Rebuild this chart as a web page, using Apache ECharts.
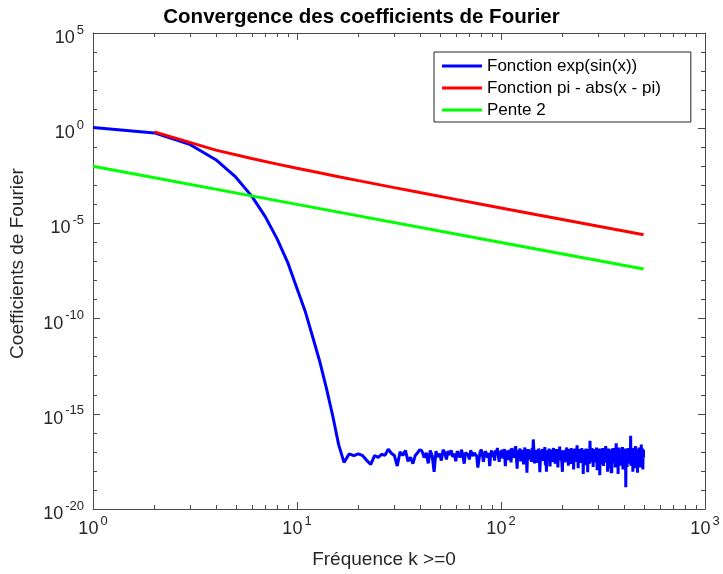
<!DOCTYPE html>
<html><head><meta charset="utf-8">
<script src="https://cdn.jsdelivr.net/npm/echarts@6.0.0/dist/echarts.min.js"></script>
<style>html,body{margin:0;padding:0;background:#fff}#c{width:723px;height:574px}</style>
</head><body><div id="c"></div>
<script>
// ---- texts ----
const titleText = 'Convergence des coefficients de Fourier';
const xName = 'Fréquence k >=0';
const yName = 'Coefficients de Fourier';
const seriesNames = ['Fonction exp(sin(x))', 'Fonction pi - abs(x - pi)', 'Pente 2'];

// ---- axes / ticks ----
const xRange = [1, 1000];                 // x log axis extent
const yExpRange = [-20, 5];               // y axis: exponents of 10
const yExpStep = 5;                       // labelled y ticks every 5 decades
const xMajorTicks = [10, 100];
const xMinorTicks = [2,3,4,5,6,7,8,9,20,30,40,50,60,70,80,90,200,300,400,500,600,700,800,900];

// ---- data: blue, |c_k| of exp(sin(x)), plotted at x = k+1 (k = 0..499) ----
const blueDecay = [1.1,0.565,0.136,0.0222,0.00274,2.7e-4,2.2e-5,1.5e-6,9e-8,3.8e-9,2.2e-10,9e-12,4.5e-13,1.8e-14,7e-16,2.4e-17,2.8e-18];
const blueFloor = [
7.8e-18,6.3e-18,7.8e-18,6.3e-18,3.5e-18,2.2e-18,6.3e-18,5.2e-18,7.5e-18,6.5e-18,
14e-18,8.5e-18,6.5e-18,1.8e-18,10e-18,6.5e-18,12e-18,3.2e-18,5.2e-18,2.4e-18,
6.5e-18,9e-18,13e-18,11e-18,5e-18,9e-18,2.5e-18,12e-18,6e-18,0.9e-18,
11e-18,5.5e-18,8e-18,3.5e-18,13e-18,9e-18,4e-18,11e-18,7e-18,12e-18,
5.5e-18,8e-18,3.2e-18,11e-18,10e-18,5e-18,13e-18,6.5e-18,2.4e-18,9e-18,
11e-18,7e-18,4e-18,12e-18,15e-18,6e-18,9e-18,11e-18,6e-18,1.5e-18,
4e-18,10e-18,13e-18,8e-18,3e-18,6.5e-18,11e-18,14e-18,5e-18,9e-18,
1.8e-18,7.5e-18,12e-18,5.5e-18,10e-18,3.5e-18,12e-18,8.5e-18,16e-18,6e-18,
3e-18,11e-18,7e-18,13e-18,4.5e-18,9e-18,14e-18,1.8e-18,8e-18,12e-18,
6e-18,3.8e-18,10e-18,13e-18,2.8e-18,16e-18,7.5e-18,9e-18,5e-18,11e-18,
20e-18,4.5e-18,1.3e-18,12e-18,8e-18,6.5e-18,15e-18,3.2e-18,10e-18,7e-18,
13e-18,2.2e-18,9e-18,17e-18,5.5e-18,11e-18,0.8e-18,8e-18,14e-18,6e-18,
4e-18,12e-18,9.5e-18,3e-18,16e-18,7e-18,45e-18,10.5e-18,2.5e-18,5e-18,
8e-18,13e-18,2.6e-18,11e-18,6e-18,15e-18,9e-18,0.85e-18,4e-18,12e-18,
7e-18,10e-18,14e-18,3.4e-18,8.5e-18,5.5e-18,18e-18,2e-18,11e-18,0.9e-18,
6.5e-18,12e-18,9e-18,4e-18,15e-18,7.5e-18,1.7e-18,10e-18,13e-18,5e-18,
8e-18,3e-18,11e-18,16e-18,6e-18,9.5e-18,2.4e-18,12e-18,7e-18,14e-18,
4.5e-18,10e-18,1.5e-18,8.5e-18,13e-18,6e-18,19e-18,3.6e-18,9e-18,11e-18,
5.5e-18,7e-18,0.9e-18,12e-18,15e-18,4e-18,8e-18,10e-18,2.8e-18,13e-18,
6e-18,9e-18,17e-18,3.2e-18,11e-18,7.5e-18,1.9e-18,14e-18,8e-18,5e-18,
12e-18,10e-18,2.3e-18,16e-18,6.5e-18,9e-18,4.2e-18,13e-18,7e-18,1.2e-18,
11e-18,8e-18,15e-18,5e-18,3e-18,10e-18,12e-18,6e-18,22e-18,4e-18,
9e-18,1.4e-18,13e-18,7e-18,11e-18,5.5e-18,14e-18,2.6e-18,8e-18,10e-18,
6e-18,16e-18,3.5e-18,12e-18,9e-18,0.7e-18,7.5e-18,11e-18,4.5e-18,13e-18,
8e-18,2e-18,10e-18,15e-18,6e-18,9.5e-18,3.8e-18,12e-18,0.85e-18,7e-18,
14e-18,5e-18,11e-18,8.5e-18,2.4e-18,38e-18,9e-18,6.5e-18,12e-18,4e-18,
10e-18,16e-18,3e-18,7.5e-18,13e-18,1.6e-18,9e-18,11e-18,5.5e-18,14e-18,
7e-18,2.8e-18,12e-18,8e-18,4.5e-18,10e-18,17e-18,6e-18,1.1e-18,9e-18,
13e-18,5e-18,11e-18,3.4e-18,8e-18,15e-18,7e-18,0.6e-18,10e-18,12e-18,
4e-18,9e-18,14e-18,6.5e-18,2.2e-18,11e-18,8e-18,16e-18,5e-18,10e-18,
1.8e-18,12e-18,7e-18,9.5e-18,3.5e-18,13e-18,6e-18,11e-18,20e-18,4.5e-18,
8.5e-18,10e-18,2.6e-18,14e-18,7e-18,0.9e-18,12e-18,5.5e-18,9e-18,15e-18,
3e-18,8e-18,11e-18,6e-18,13e-18,1.3e-18,10e-18,7.5e-18,4e-18,0.75e-18,
12e-18,0.8e-18,9e-18,14e-18,5e-18,8e-18,16e-18,2.5e-18,11e-18,6.5e-18,
10e-18,3.8e-18,13e-18,7e-18,9e-18,1.5e-18,12e-18,5.5e-18,15e-18,28e-18,
8e-18,4e-18,11e-18,6.5e-18,2e-18,14e-18,9e-18,0.7e-18,10e-18,12e-18,
5e-18,17e-18,7.5e-18,3.2e-18,11e-18,9e-18,13e-18,1.9e-18,8e-18,6e-18,
14e-18,2.8e-18,10e-18,12e-18,4.5e-18,7e-18,18e-18,6e-18,1.2e-18,9.5e-18,
11e-18,5e-18,13e-18,3.6e-18,8.5e-18,10e-18,7e-18,15e-18,2.2e-18,12e-18,
6e-18,0.14e-18,9e-18,11e-18,4e-18,14e-18,8e-18,1.6e-18,12e-18,7e-18,
10e-18,3e-18,16e-18,6.5e-18,9e-18,13e-18,2.4e-18,11e-18,5e-18,8e-18,
12e-18,4.5e-18,15e-18,7e-18,70e-18,10e-18,1.8e-18,13e-18,6e-18,9e-18,
3.5e-18,11e-18,8e-18,14e-18,5.5e-18,0.9e-18,12e-18,7.5e-18,10e-18,2.6e-18,
16e-18,6e-18,9e-18,4e-18,13e-18,11e-18,1.4e-18,8e-18,20e-18,5e-18,
10e-18,7e-18,2.2e-18,12e-18,15e-18,6.5e-18,9e-18,3.4e-18,11e-18,0.8e-18,
8e-18,14e-18,5e-18,10e-18,1.9e-18,12e-18,7e-18,17e-18,4.2e-18,9e-18,
11e-18,3e-18,13e-18,6e-18,8.5e-18,1.5e-18,10e-18,14e-18,5.5e-18,24e-18,
7e-18,2.4e-18,12e-18,9e-18,4.8e-18,11e-18,15e-18,6e-18,1.2e-18,10e-18,
8e-18,13e-18,5e-18
];
const blueY = blueDecay.concat(blueFloor);

// ---- data: red, |c_k| of pi - |x - pi| (odd k), plotted at x = k+1 ----
const redX = [2,4,6,8,10,12,16,20,30,40,60,80,100,150,200,300,400,500];
const redY = [0.637,0.0707,0.0255,0.0130,0.00786,0.00526,0.00283,0.00176,7.57e-4,4.19e-4,1.83e-4,1.02e-4,6.5e-5,2.87e-5,1.61e-5,7.14e-6,4.01e-6,2.56e-6];

// ---- data: green, slope -2 reference ----
const greenX = [1, 10, 100, 500];
const greenY = [1e-2, 1e-4, 1e-6, 4e-8];

// ---------------------------------------------------------------
const FONT = '"Liberation Sans", Arial, Helvetica, sans-serif';
const AX = '#4a4a4a';
const TXT = '#262626';
const rich = {
  b: {fontSize: 18, lineHeight: 18, padding: [6, 0, 0, 0], color: TXT, fontFamily: FONT},
  s: {fontSize: 13, lineHeight: 14, padding: [0, 0, 10, 2], color: TXT, fontFamily: FONT}
};
const pow10Label = e => '{b|10}{s|' + e + '}';

const blueData = blueY.map((v, i) => [i + 1, v]);
const redData = redX.map((x, i) => [x, redY[i]]);
const greenData = greenX.map((x, i) => [x, greenY[i]]);
const xTickData = xMajorTicks.map(v => [v, 1, 7]).concat(xMinorTicks.map(v => [v, 1, 4]));

const axisLine = {show: true, onZero: false, lineStyle: {color: AX, width: 1}};
const majorTick = {show: true, inside: true, length: 7, lineStyle: {color: AX}};

const chart = echarts.init(document.getElementById('c'), null, {renderer: 'canvas'});
chart.setOption({
  animation: false,
  backgroundColor: '#ffffff',
  textStyle: {fontFamily: FONT},
  title: {
    text: titleText, left: 'center', top: 2,
    textStyle: {fontSize: 20.5, fontWeight: 'bold', color: '#000', fontFamily: FONT}
  },
  grid: {left: 93, right: 18, top: 33, bottom: 62, containLabel: false},
  legend: {
    data: seriesNames, orient: 'vertical', left: 434, top: 52,
    icon: 'rect', itemWidth: 40, itemHeight: 3, itemGap: 2,
    padding: [4, 30, 2, 8],
    backgroundColor: '#fff', borderColor: '#262626', borderWidth: 1, borderRadius: 0,
    textStyle: {fontSize: 17, lineHeight: 20, color: '#000', fontFamily: FONT},
    selectedMode: false
  },
  xAxis: [
    {
      type: 'log', logBase: 10, min: xRange[0], max: xRange[1], position: 'bottom',
      name: xName, nameLocation: 'middle', nameGap: 41,
      nameTextStyle: {fontSize: 19, color: TXT, fontFamily: FONT, padding: [0, 30, 0, 0]},
      axisLine: axisLine, axisTick: majorTick,
      minorTick: {show: false}, splitLine: {show: false},
      axisLabel: {margin: 8, formatter: v => pow10Label(Math.round(Math.log10(v))), rich: rich, showMinLabel: true, showMaxLabel: true}
    },
    {
      type: 'log', logBase: 10, min: xRange[0], max: xRange[1], position: 'top',
      axisLine: axisLine, axisTick: majorTick,
      splitLine: {show: false}, axisLabel: {show: false}
    }
  ],
  yAxis: [
    {type: 'log', logBase: 10, min: Math.pow(10, yExpRange[0]), max: Math.pow(10, yExpRange[1]), show: false,
     axisLine: {show: false, onZero: false}, splitLine: {show: false}},
    {
      type: 'value', min: yExpRange[0], max: yExpRange[1], interval: yExpStep, position: 'left',
      name: yName, nameLocation: 'middle', nameGap: 66, nameRotate: 90,
      nameTextStyle: {fontSize: 19, color: TXT, fontFamily: FONT, padding: [0, 0, 0, 15]},
      axisLine: axisLine, axisTick: majorTick,
      minorTick: {show: true, splitNumber: 5, length: 4, lineStyle: {color: AX}},
      splitLine: {show: false},
      axisLabel: {margin: 9, formatter: v => pow10Label(v), rich: rich, padding: [4, 0, 0, 0]}
    },
    {
      type: 'value', min: yExpRange[0], max: yExpRange[1], interval: yExpStep, position: 'right',
      axisLine: axisLine, axisTick: majorTick,
      minorTick: {show: true, splitNumber: 5, length: 4, lineStyle: {color: AX}},
      splitLine: {show: false}, axisLabel: {show: false}
    }
  ],
  series: [
    {
      name: 'xticks', type: 'custom', xAxisIndex: 0, yAxisIndex: 0, silent: true, z: 1,
      data: xTickData, encode: {x: 0, y: 1}, clip: false,
      renderItem: function (params, api) {
        const cs = params.coordSys;
        const px = Math.round(api.coord([api.value(0), 1])[0]) + 0.5;
        const len = api.value(2);
        const yb = cs.y + cs.height, yt = cs.y;
        return {type: 'group', children: [
          {type: 'line', shape: {x1: px, y1: yb, x2: px, y2: yb - len}, style: {stroke: AX, lineWidth: 1}},
          {type: 'line', shape: {x1: px, y1: yt, x2: px, y2: yt + len}, style: {stroke: AX, lineWidth: 1}}
        ]};
      }
    },
    {name: seriesNames[0], type: 'line', xAxisIndex: 0, yAxisIndex: 0, data: blueData, showSymbol: false, symbol: 'none',
     lineStyle: {color: '#0000ff', width: 3}, itemStyle: {color: '#0000ff'}, z: 3},
    {name: seriesNames[1], type: 'line', xAxisIndex: 0, yAxisIndex: 0, data: redData, showSymbol: false, symbol: 'none',
     lineStyle: {color: '#ff0000', width: 3}, itemStyle: {color: '#ff0000'}, z: 4},
    {name: seriesNames[2], type: 'line', xAxisIndex: 0, yAxisIndex: 0, data: greenData, showSymbol: false, symbol: 'none',
     lineStyle: {color: '#00ff00', width: 3}, itemStyle: {color: '#00ff00'}, z: 3}
  ]
});
</script>
</body></html>
